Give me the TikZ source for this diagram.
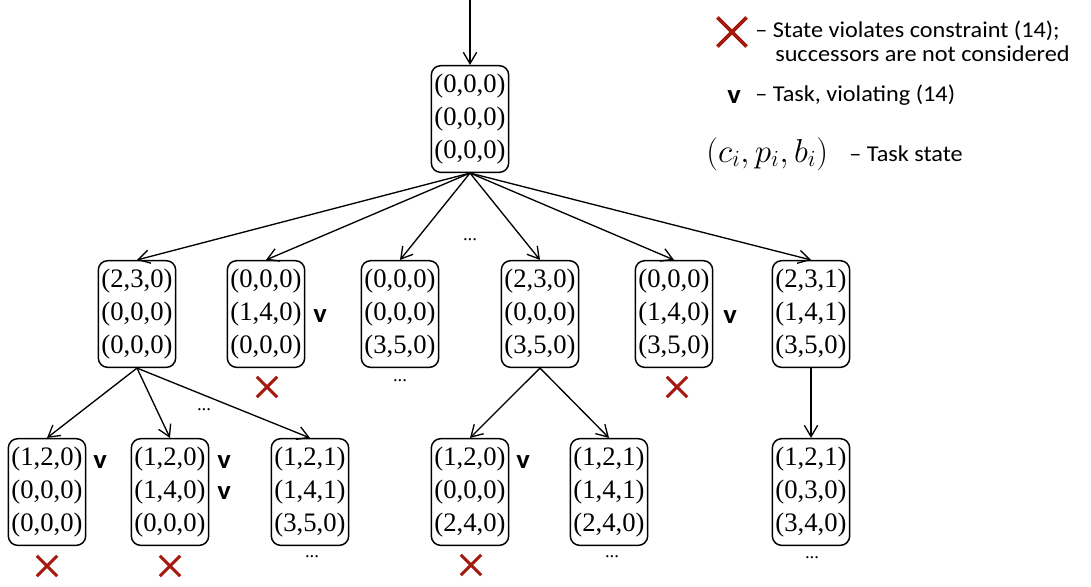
\documentclass[tikz,border=0pt]{standalone}
\usepackage{fontspec}
\setmainfont{Liberation Serif}
\newfontfamily\lgfont[FakeStretch=1.07]{Carlito}
\usetikzlibrary{arrows.meta,shapes.misc}
\definecolor{xred}{RGB}{165,25,15}
\begin{document}
\begin{tikzpicture}[x=0.75pt,y=-0.75pt,
  state/.style={draw, rounded corners=7pt, line width=1.1pt, minimum width=58pt, minimum height=80pt, inner sep=0pt, align=center, font=\fontsize{20}{24.5}\selectfont},
  edge/.style={-{Straight Barb[length=8.5pt,width=10pt]}, line width=1pt},
  xm/.style={cross out, draw=xred, line width=2.3pt, minimum size=13pt, inner sep=0pt},
  bigxm/.style={cross out, draw=xred, line width=2.8pt, minimum size=19pt, inner sep=0pt},
  vl/.style={font=\lgfont\bfseries\fontsize{20}{20}\selectfont, inner sep=0pt},
  dots/.style={font=\fontsize{14}{14}\selectfont, inner sep=0pt},
  lg/.style={font=\lgfont\fontsize{17}{18}\selectfont, anchor=base west, inner sep=0pt}]
\useasboundingbox (0,0) rectangle (1091,586);
% root
\coordinate (in) at (470,0);
\node[state] (r) at (470,119) {(0,0,0)\\(0,0,0)\\(0,0,0)};
% level 1
\node[state] (a) at (137,314) {(2,3,0)\\(0,0,0)\\(0,0,0)};
\node[state] (b) at (266,314) {(0,0,0)\\(1,4,0)\\(0,0,0)};
\node[state] (c) at (400,314) {(0,0,0)\\(0,0,0)\\(3,5,0)};
\node[state] (d) at (540,314) {(2,3,0)\\(0,0,0)\\(3,5,0)};
\node[state] (e) at (674,314) {(0,0,0)\\(1,4,0)\\(3,5,0)};
\node[state] (f) at (811,314) {(2,3,1)\\(1,4,1)\\(3,5,0)};
% level 2
\node[state] (g) at (47,492) {(1,2,0)\\(0,0,0)\\(0,0,0)};
\node[state] (h) at (170,492) {(1,2,0)\\(1,4,0)\\(0,0,0)};
\node[state] (i) at (310,492) {(1,2,1)\\(1,4,1)\\(3,5,0)};
\node[state] (j) at (470,492) {(1,2,0)\\(0,0,0)\\(2,4,0)};
\node[state] (k) at (609,492) {(1,2,1)\\(1,4,1)\\(2,4,0)};
\node[state] (l) at (811,492) {(1,2,1)\\(0,3,0)\\(3,4,0)};
% edges
\draw[edge] (in) -- (r);
\foreach \t in {a,b,c,d,e,f} \draw[edge] (r.south) -- (\t.north);
\foreach \t in {g,h,i} \draw[edge] (a.south) -- (\t.north);
\foreach \t in {j,k} \draw[edge] (d.south) -- (\t.north);
\draw[edge] (f) -- (l);
% v marks
\node[vl] (vb) at (320,316) {v};
\node[vl] (ve) at (730,317) {v};
\node[vl] (vg) at (100,462) {v};
\node[vl] (vh1) at (224,462) {v};
\node[vl] (vh2) at (224,493) {v};
\node[vl] (vj) at (523,462) {v};
% crosses
\node[xm] (xb) at (267,387) {};
\node[xm] (xe) at (677,387) {};
\node[xm] (xg) at (47,566) {};
\node[xm] (xh) at (170,566) {};
\node[xm] (xj) at (471,565) {};
% dots
\node[dots] (d1) at (470,240) {...};
\node[dots] (d2) at (204,410) {...};
\node[dots] (d3) at (400,381) {...};
\node[dots] (d4) at (312,557) {...};
\node[dots] (d5) at (612,557) {...};
\node[dots] (d6) at (812,558) {...};
% legend
\node[bigxm] (lx) at (732,32) {};
\node[lg] (l1) at (755,37.5) {– State violates constraint (14);};
\node[lg] (l2) at (775,61.5) {successors are not considered};
\node[vl] (lv) at (734,97) {v};
\node[lg] (l3) at (755,101.5) {– Task, violating (14)};
\node[anchor=base west, inner sep=0pt, font=\fontsize{26}{28}\selectfont] (lt) at (706,162) {$\left(c_i,p_i,b_i\right)$};
\node[lg] (l4) at (849,161.5) {– Task state};
\end{tikzpicture}
\end{document}
